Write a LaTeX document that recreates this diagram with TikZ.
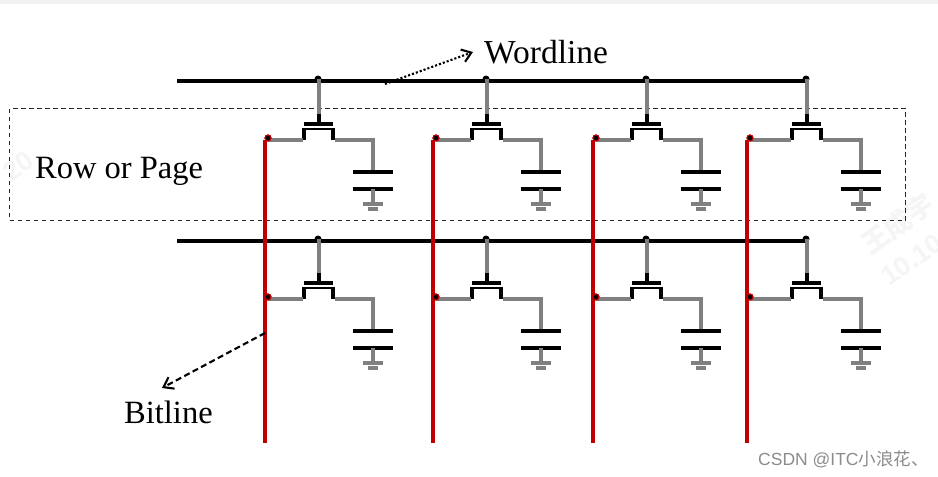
\documentclass[tikz,border=0pt]{standalone}
\usepackage{fontspec}
\setmainfont{Liberation Serif}
\newfontfamily\wmsans{Liberation Sans}
\newfontfamily\cjkfont{Noto Sans CJK SC}
\usetikzlibrary{arrows.meta}
\definecolor{redline}{RGB}{192,0,0}
\definecolor{grayline}{RGB}{128,128,128}
\tikzset{
  x=1pt,y=-1pt,
  wordline/.style={line width=3.8pt,black},
  bitline/.style={line width=3.6pt,redline},
  wire/.style={line width=3.1pt,grayline,line cap=butt},
  thick black/.style={line width=4pt,black},
  plate/.style={line width=4pt,black},
  thin black/.style={line width=2.8pt,black},
  blackdot/.style={circle,fill=black,inner sep=0pt,minimum size=7pt},
  reddot/.style={circle,fill=black,draw=redline,line width=1.1pt,inner sep=0pt,minimum size=6pt},
  label/.style={font=\fontsize{32.5}{36}\selectfont,text=black,inner sep=0pt},
  watermark/.style={text=black!4,inner sep=0pt,rotate=35,font=\wmsans\bfseries\fontsize{27}{30}\selectfont},
  rowbox/.style={draw=black!85,line width=1.2pt,dash pattern=on 4.5pt off 3.5pt},
  note/.style={line width=2.1pt,black,-{Straight Barb[length=9pt,width=13pt,line width=2.1pt]}},
}
\begin{document}
\begin{tikzpicture}
\useasboundingbox (0,0) rectangle (938,477);
\fill[white] (0,0) rectangle (938,477);
\fill[black!5] (0,0) rectangle (938,4);
% watermarks
\node[watermark] (wma) at (898,224) {\cjkfont\bfseries 王成宇};
\node[watermark] (wmb) at (912,260) {10.10};
\node[watermark] (wmc) at (18,166) {20};
% row box
\node[rowbox,minimum width=896pt,minimum height=112pt,inner sep=0pt,anchor=north west] (box) at (9,108) {};
% word lines
\foreach \r/\wy in {1/81,2/241}{
  \coordinate (wls\r) at (177,\wy);
  \coordinate (wle\r) at (807,\wy);
  \draw[wordline] (wls\r) -- (wle\r);
}
% cells
\foreach \r/\wy/\oy in {1/81/0,2/241/159}{
 \foreach \c/\bx/\sx in {1/265/319,2/433/487,3/593/647,4/747/807}{
  \pgfmathsetmacro{\gy}{140+\oy}
  \pgfmathsetmacro{\capx}{\sx+54}
  \node[blackdot] (g\r\c) at (\sx-1,\wy-2) {};
  \coordinate (st\r\c) at (\sx,\gy-26);
  \coordinate (sb\r\c) at (\sx,\gy-17);
  \coordinate (gl\r\c) at (\sx-15,\gy-16);
  \coordinate (gr\r\c) at (\sx+14,\gy-16);
  \coordinate (cl\r\c) at (\sx-15,\gy-11);
  \coordinate (cr\r\c) at (\sx+14,\gy-11);
  \coordinate (ll\r\c) at (\sx-15,\gy);
  \coordinate (lr\r\c) at (\sx+14,\gy);
  \coordinate (corner\r\c) at (\capx,\gy);
  \coordinate (pat\r\c) at (\capx,\gy+32);
  \coordinate (pbt\r\c) at (\capx,\gy+48.5);
  \coordinate (gnd\r\c) at (\capx,\gy+64);
  \coordinate (gndb\r\c) at (\capx,\gy+69);
  \node[reddot] (d\r\c) at (\bx+3,\gy-2) {};
  \draw[wire] (g\r\c.center) ++(1,0) -- (st\r\c);
  \draw[thick black] (st\r\c) -- (sb\r\c);
  \draw[thick black] (gl\r\c) -- (gr\r\c);
  \draw[thin black] (cl\r\c) -- (cr\r\c);
  \draw[thick black] ([yshift=1.4pt]cl\r\c) -- (ll\r\c);
  \draw[thick black] ([yshift=1.4pt]cr\r\c) -- (lr\r\c);
  \draw[wire] (d\r\c.center |- ll\r\c) -- ([xshift=-1pt]ll\r\c);
  \draw[wire,line join=miter] ([xshift=1.5pt]lr\r\c) -- (corner\r\c) -- (pat\r\c);
  \draw[plate] ([xshift=-20pt]pat\r\c) -- ([xshift=20pt]pat\r\c);
  \draw[plate] ([xshift=-20pt]pbt\r\c) -- ([xshift=20pt]pbt\r\c);
  \draw[wire] (pbt\r\c) -- (gnd\r\c);
  \draw[wire] ([xshift=-10pt]gnd\r\c) -- ([xshift=10pt]gnd\r\c);
  \draw[wire] ([xshift=-5pt]gndb\r\c) -- ([xshift=5pt]gndb\r\c);
 }
}
% bit lines
\foreach \c/\bx in {1/265,2/433,3/593,4/747}{
  \coordinate (bls\c) at (\bx,140);
  \coordinate (ble\c) at (\bx,443);
  \draw[bitline] (bls\c) -- (ble\c);
  \node[reddot] at (d1\c) {};
  \node[reddot] at (d2\c) {};
}
% labels
\node[label,anchor=base west,font=\fontsize{33.5}{36}\selectfont] (wordlbl) at (484,63) {Wordline};
\node[label,anchor=base west] (rowlbl) at (35,178) {Row or Page};
\node[label,anchor=base west] (bitlbl) at (124,423.5) {Bitline};
\coordinate (wordfrom) at (385,84);
\coordinate (wordto) at (473,52);
\coordinate (bitfrom) at (265,333);
\coordinate (bitto) at (162,388);
\draw[note,dotted] (wordfrom) -- (wordto);
\draw[note,dash pattern=on 6pt off 3.5pt] (bitfrom) -- (bitto);
\node[anchor=base west,inner sep=0pt,text=black!45,font=\wmsans\fontsize{17.5}{20}\selectfont] (csdn) at (758,465) {CSDN @ITC{\cjkfont 小浪花、}};
\end{tikzpicture}
\end{document}
